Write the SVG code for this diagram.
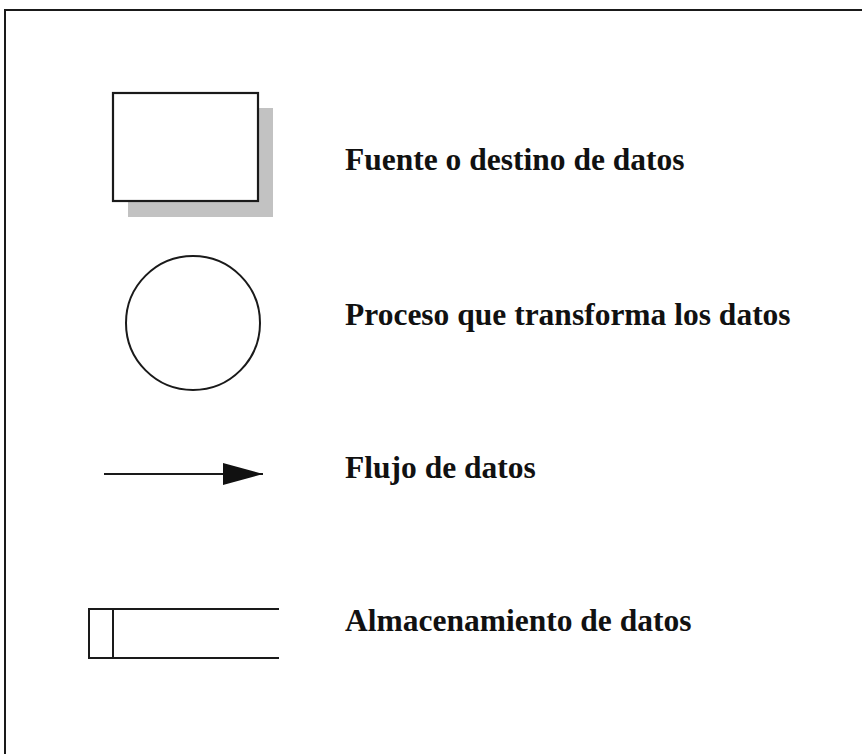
<svg xmlns="http://www.w3.org/2000/svg" width="862" height="754" viewBox="0 0 862 754">
<style>
.lbl{font-family:"Liberation Serif","Times New Roman",serif;font-weight:bold;font-size:31.5px;fill:#111}
.ln{fill:none;stroke:#1a1a1a;stroke-width:2}
</style>
<defs>
<marker id="ah" viewBox="0 0 40 22" refX="40" refY="11" markerWidth="40" markerHeight="22" markerUnits="userSpaceOnUse" orient="auto">
<path d="M0,0 L40,11 L0,22 Z" fill="#111"/>
</marker>
</defs>
<rect width="862" height="754" fill="#fff"/>
<g id="frame">
<path class="ln" d="M5,754 L5,10 L862,10"/>
</g>
<g id="source">
<rect x="128" y="108" width="145" height="109" fill="#c2c2c2"/>
<rect x="113" y="93" width="145" height="108" fill="#fff" stroke="#1a1a1a" stroke-width="2.2"/>
<text class="lbl" x="345" y="170">Fuente o destino de datos</text>
</g>
<g id="process">
<circle cx="193" cy="323" r="67" class="ln"/>
<text class="lbl" x="345" y="325">Proceso que transforma los datos</text>
</g>
<g id="connectors">
<line x1="104" y1="474" x2="263" y2="474" stroke="#1a1a1a" stroke-width="2" marker-end="url(#ah)"/>
</g>
<g id="flow">
<text class="lbl" x="345" y="478">Flujo de datos</text>
</g>
<g id="store">
<path class="ln" d="M279,609 L89,609 L89,658 L279,658 M113,609 L113,658"/>
<text class="lbl" x="345" y="631">Almacenamiento de datos</text>
</g>
</svg>
